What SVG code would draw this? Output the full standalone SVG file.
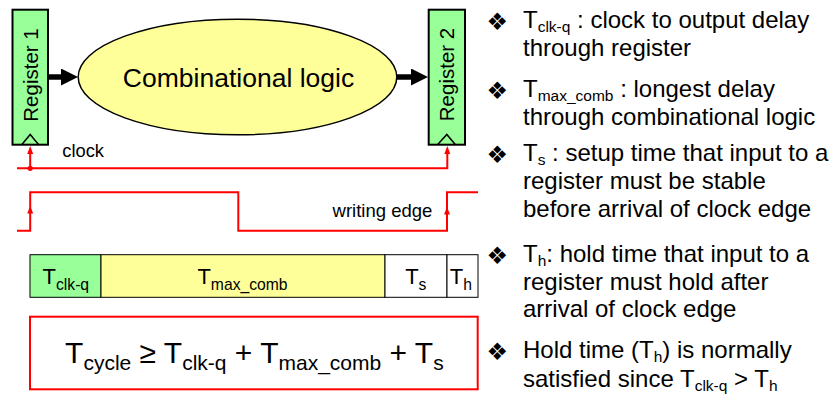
<svg xmlns="http://www.w3.org/2000/svg" width="831" height="394" viewBox="0 0 831 394">
<style>
text{font-family:"Liberation Sans",Arial,sans-serif;fill:#000}
.reg{fill:#99FF99;stroke:#000;stroke-width:2}
.clk{fill:none;stroke:#000;stroke-width:1.5}
.red{fill:none;stroke:#FF0000;stroke-width:2}
.redf{fill:#FF0000}
.seg{stroke:#000;stroke-width:1}
.bt{font-size:22px}
.bs{font-size:15.7px}
.rt{font-size:24px}
.rs{font-size:15.5px}
.bul{font-family:"DejaVu Sans",sans-serif;font-size:24px}
</style>
<defs>
<marker id="thick" markerUnits="userSpaceOnUse" viewBox="0 0 17 17" markerWidth="17" markerHeight="17" refX="2" refY="8.5" orient="auto">
<path d="M0,0 L17,8.5 L0,17 z" fill="#000"/>
</marker>
<marker id="redhead" markerUnits="userSpaceOnUse" viewBox="0 0 8 6" markerWidth="8" markerHeight="6" refX="1" refY="3" orient="auto">
<path d="M0,0 L8,3 L0,6 z" fill="#FF0000"/>
</marker>
</defs>

<g id="register1">
<rect class="reg" x="12.5" y="9.7" width="35.5" height="135"/>
<polyline class="clk" points="21.7,144.7 30.2,134.5 38.7,144.7"/>
<text x="0" y="0" font-size="20.5" text-anchor="middle" transform="translate(37.5,75) rotate(-90)">Register 1</text>
</g>

<g id="combinational-logic">
<ellipse cx="237.5" cy="77" rx="159.3" ry="57.8" fill="#FFFF99" stroke="#000" stroke-width="1.5"/>
<text x="238.5" y="87" font-size="26.5" text-anchor="middle">Combinational logic</text>
</g>

<g id="register2">
<rect class="reg" x="428.7" y="9.7" width="36.3" height="135"/>
<polyline class="clk" points="437.5,144.7 446.8,134.5 455.5,144.7"/>
<text x="0" y="0" font-size="20.5" text-anchor="middle" transform="translate(454,74.5) rotate(-90)">Register 2</text>
</g>

<g id="connectors">
<line x1="48" y1="77" x2="63" y2="77" stroke="#000" stroke-width="5.5" marker-end="url(#thick)"/>
<line x1="397" y1="77" x2="413" y2="77" stroke="#000" stroke-width="5.5" marker-end="url(#thick)"/>
<path class="red" d="M17,168.3 H447.3 V153" marker-end="url(#redhead)"/>
<path class="red" d="M30.2,168.3 V153" marker-end="url(#redhead)"/>
<circle class="redf" cx="30.2" cy="168.3" r="2.6"/>
</g>

<g id="clock-label">
<text x="62.3" y="157.3" font-size="18.3">clock</text>
</g>

<g id="waveform">
<polyline class="red" points="17,230.7 30.2,230.7 30.2,192.3 238.3,192.3 238.3,230.7 447,230.7 447,192.3 478,192.3"/>
<polygon class="redf" points="30.2,206 27.2,213.5 33.2,213.5"/>
<polygon class="redf" points="447,207 444,214.5 450,214.5"/>
<text x="432.3" y="217" font-size="18.5" text-anchor="end">writing edge</text>
</g>

<g id="timing-bar">
<rect class="seg" x="30" y="254.7" width="71" height="42.6" fill="#99FF99"/>
<rect class="seg" x="101" y="254.7" width="284" height="42.6" fill="#FFFF99"/>
<rect class="seg" x="385" y="254.7" width="62" height="42.6" fill="#FFFFFF"/>
<rect class="seg" x="447" y="254.7" width="31" height="42.6" fill="#FFFFFF"/>
<text class="bt" x="65.8" y="284" text-anchor="middle">T<tspan class="bs" dy="6">clk-q</tspan></text>
<text class="bt" x="242.5" y="284" text-anchor="middle">T<tspan class="bs" dy="6">max_comb</tspan></text>
<text class="bt" x="415.8" y="284" text-anchor="middle">T<tspan class="bs" dy="6">s</tspan></text>
<text class="bt" x="460.8" y="284" text-anchor="middle">T<tspan class="bs" dy="6">h</tspan></text>
</g>

<g id="formula">
<rect x="30" y="316.7" width="447.7" height="72.6" fill="#FFFFFF" stroke="#FF0000" stroke-width="2"/>
<text x="254.4" y="363.3" font-size="30" text-anchor="middle">T<tspan font-size="21" dy="7">cycle</tspan><tspan dy="-7"> ≥ T</tspan><tspan font-size="21" dy="7">clk-q</tspan><tspan dy="-7"> + T</tspan><tspan font-size="21" dy="7">max_comb</tspan><tspan dy="-7"> + T</tspan><tspan font-size="21" dy="7">s</tspan></text>
</g>

<g id="notes">
<text class="bul" x="486.5" y="30">❖</text>
<text class="rt" x="523" y="28">T<tspan class="rs" dy="4">clk-q</tspan><tspan dy="-4"> : clock to output delay</tspan></text>
<text class="rt" x="523" y="55.5">through register</text>

<text class="bul" x="486.5" y="99">❖</text>
<text class="rt" x="523" y="97">T<tspan class="rs" dy="4">max_comb</tspan><tspan dy="-4"> : longest delay</tspan></text>
<text class="rt" x="523" y="125">through combinational logic</text>

<text class="bul" x="486.5" y="163">❖</text>
<text class="rt" x="523" y="161">T<tspan class="rs" dy="4">s</tspan><tspan dy="-4"> : setup time that input to a</tspan></text>
<text class="rt" x="523" y="189">register must be stable</text>
<text class="rt" x="523" y="217">before arrival of clock edge</text>

<text class="bul" x="486.5" y="264">❖</text>
<text class="rt" x="523" y="262">T<tspan class="rs" dy="4">h</tspan><tspan dy="-4">: hold time that input to a</tspan></text>
<text class="rt" x="523" y="289.5">register must hold after</text>
<text class="rt" x="523" y="317">arrival of clock edge</text>

<text class="bul" x="486.5" y="360">❖</text>
<text class="rt" x="523" y="358">Hold time (T<tspan class="rs" dy="4">h</tspan><tspan dy="-4">) is normally</tspan></text>
<text class="rt" x="523" y="386.5">satisfied since T<tspan class="rs" dy="4">clk-q</tspan><tspan dy="-4"> &gt; T</tspan><tspan class="rs" dy="4">h</tspan></text>
</g>
</svg>
